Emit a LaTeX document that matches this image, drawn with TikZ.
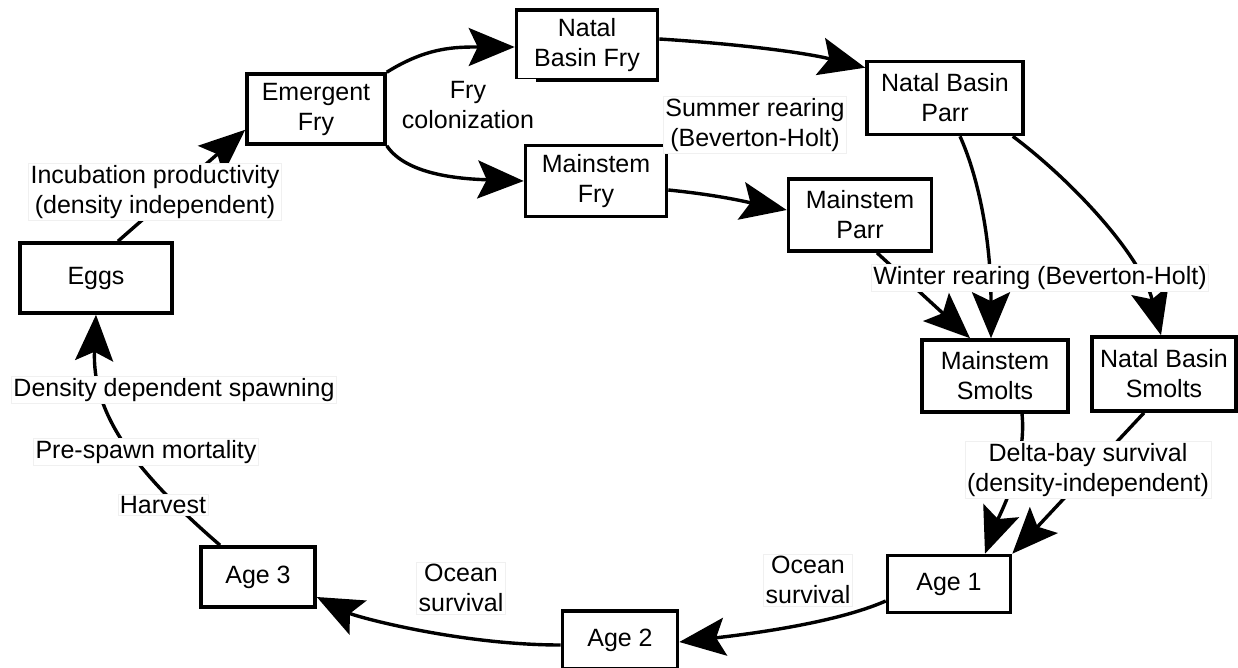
\documentclass[tikz,border=0pt]{standalone}
\usepackage{fontspec}
\setmainfont{Liberation Sans}
\usetikzlibrary{arrows.meta}
\begin{document}
\begin{tikzpicture}[x=1pt,y=-1pt,
  font=\fontsize{25}{30}\selectfont,
  box/.style={draw=black,line width=3.6pt,fill=white,align=center,inner sep=0pt},
  arr/.style={line width=3.4pt,-{Stealth[length=46pt,width=38pt,inset=9pt]}},
  lbl/.style={fill=white,draw=black!6,line width=0.6pt,align=center,inner sep=2pt}]
\useasboundingbox (0,0) rectangle (1238,668);
% boxes
\node[box,minimum width=152pt,minimum height=70pt] (eggs) at (96,278) {Eggs};
\node[box,minimum width=138pt,minimum height=70pt] (emfry) at (316,109) {Emergent\\Fry};
\node[box,minimum width=141pt,minimum height=70pt] (nbfry) at (587,45) {Natal\\Basin Fry};
\node[box,minimum width=141pt,minimum height=71pt] (msfry) at (596,181) {Mainstem\\Fry};
\node[box,minimum width=156pt,minimum height=73pt] (nbparr) at (945,98) {Natal Basin\\Parr};
\node[box,minimum width=143pt,minimum height=72pt] (msparr) at (860,215) {Mainstem\\Parr};
\node[box,minimum width=146pt,minimum height=72pt] (mssmolt) at (995,376) {Mainstem\\Smolts};
\node[box,minimum width=144pt,minimum height=74pt] (nbsmolt) at (1164,374) {Natal Basin\\Smolts};
\node[box,minimum width=123pt,minimum height=57pt] (age1) at (949,584) {Age 1};
\node[box,minimum width=115pt,minimum height=58pt] (age2) at (620,640) {Age 2};
\node[box,minimum width=114pt,minimum height=60pt] (age3) at (258,577) {Age 3};
% connectors
\draw[arr] ([xshift=22pt]eggs.north) -- ([yshift=16pt]emfry.south west);
\draw[arr] (emfry.north east) .. controls +(40,-25) and +(-60,0) .. ([yshift=-2pt]nbfry.west);
\draw[arr] (emfry.south east) .. controls +(20,30) and +(-60,-2) .. (msfry.west);
\draw[arr] ([yshift=6pt]nbfry.east) .. controls +(80,5) and +(-60,-15) .. ([yshift=-8pt]nbparr.north west);
\draw[arr] ([yshift=-9pt]msfry.east) .. controls +(50,5) and +(-40,-8) .. ([yshift=5pt]msparr.west);
\draw[arr] ([xshift=15pt]nbparr.south) .. controls +(18,40) and +(0,-100) .. ([xshift=-4pt]mssmolt.north);
\draw[arr] ([xshift=-12pt]nbparr.south east) .. controls +(60,45) and +(-20,-80) .. ([xshift=-3pt]nbsmolt.north);
\draw[arr] ([xshift=17pt]msparr.south) -- ([xshift=-25pt]mssmolt.north);
\draw[arr] ([xshift=27pt]mssmolt.south) .. controls +(5,50) and +(15,-40) .. ([xshift=36pt]age1.north);
\draw[arr] ([xshift=-20pt]nbsmolt.south) -- (age1.north east);
\draw[arr] ([yshift=-17pt]age1.west) .. controls +(-50,22) and +(70,-8) .. ([yshift=-2pt]age2.east);
\draw[arr] ([yshift=-5pt]age2.west) .. controls +(-100,0) and +(40,20) .. ([yshift=-20pt]age3.east);
\draw[arr] ([xshift=-38pt]age3.north) .. controls +(-89,-77) and +(-4,97) .. (eggs.south);
% labels
\node[lbl] (inc) at (155,192) {Incubation productivity\\(density independent)};
\node[lbl,draw=none] (frycol) at (468,105) {Fry\\colonization};
\node[lbl] (summer) at (755,125) {Summer rearing\\(Beverton-Holt)};
\node[lbl] (winter) at (1040,278) {Winter rearing (Beverton-Holt)};
\node[lbl] (delta) at (1088,470) {Delta-bay survival\\(density-independent)};
\node[lbl] (ocean1) at (808,580) {Ocean\\survival};
\node[lbl] (ocean2) at (461,588) {Ocean\\survival};
\node[lbl] (dds) at (174,390) {Density dependent spawning};
\node[lbl] (psm) at (146,452) {Pre-spawn mortality};
\node[lbl] (harv) at (163,505) {Harvest};
\end{tikzpicture}
\end{document}
